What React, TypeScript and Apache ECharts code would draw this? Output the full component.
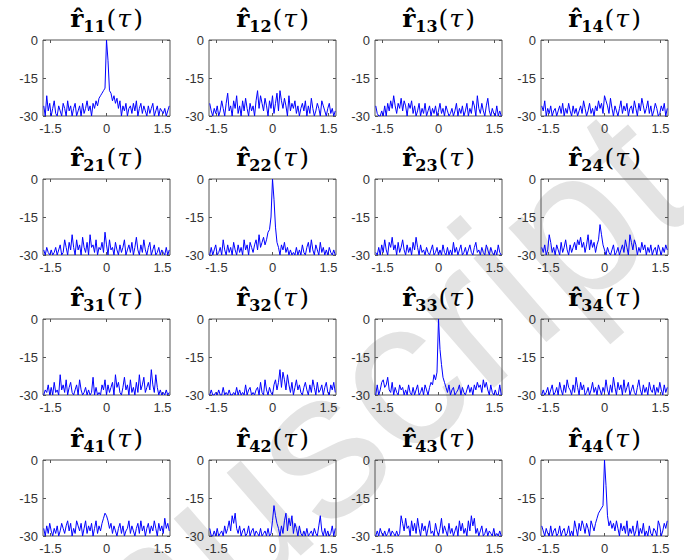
import React, { useEffect, useRef } from "react";
import * as echarts from "echarts";

// lag grid (tau) and ticks
const TAU_MIN = -1.68;
const TAU_STEP = 0.04;
const TAU_COUNT = 85;
const TAU = Array.from({ length: TAU_COUNT }, (_, i) => +(TAU_MIN + i * TAU_STEP).toFixed(2));
const X_TICKS = [-1.5, 0, 1.5];
const Y_MIN = -30;
const Y_MAX = 0;
const Y_STEP = 15;

const SUBSCRIPTS = ["11", "12", "13", "14", "21", "22", "23", "24", "31", "32", "33", "34", "41", "42", "43", "44"];

const R11 = [
  -26, -30, -22, -28, -25, -30, -27, -24, -29, -30,
  -26, -28, -30, -25, -27, -30, -24, -28, -26, -30,
  -27, -25, -30, -28, -26, -30, -25, -29, -27, -24,
  -28, -26, -30, -25, -27, -24, -26, -23, -22, -21,
  -20, -19, 0, -8, -20, -21, -24, -22, -25, -23,
  -27, -24, -30, -26, -28, -25, -30, -27, -26, -29,
  -25, -28, -24, -30, -27, -25, -29, -26, -28, -30,
  -26, -29, -27, -25, -30, -28, -26, -30, -27, -28,
  -29, -27, -30, -28, -26,
];
const R12 = [
  -25, -28, -30, -27, -29, -26, -30, -28, -24, -27,
  -30, -25, -21, -28, -26, -30, -24, -27, -22, -29,
  -26, -30, -24, -28, -23, -27, -30, -25, -28, -26,
  -30, -24, -20, -27, -22, -25, -28, -23, -26, -30,
  -24, -27, -22, -29, -25, -21, -28, -20, -24, -27,
  -23, -26, -30, -22, -28, -25, -27, -24, -29, -26,
  -30, -27, -25, -28, -24, -30, -26, -29, -23, -27,
  -30, -28, -25, -27, -30, -24, -26, -28, -30, -27,
  -25, -29, -27, -30, -28,
];
const R13 = [
  -26, -29, -30, -30, -28, -30, -26, -30, -25, -28,
  -24, -27, -22, -26, -29, -25, -27, -23, -28, -24,
  -26, -30, -25, -27, -24, -29, -26, -30, -28, -25,
  -30, -27, -29, -25, -30, -28, -26, -30, -27, -29,
  -26, -30, -28, -25, -29, -27, -30, -26, -28, -30,
  -29, -27, -30, -28, -25, -30, -27, -29, -26, -30,
  -28, -25, -30, -27, -29, -24, -26, -30, -22, -27,
  -29, -25, -28, -30, -26, -23, -28, -30, -27, -29,
  -30, -26, -30, -28, -30,
];
const R14 = [
  -26, -28, -24, -30, -27, -29, -26, -30, -28, -27,
  -30, -28, -26, -29, -25, -30, -27, -29, -25, -28,
  -30, -26, -29, -27, -30, -28, -26, -29, -24, -27,
  -30, -28, -25, -29, -27, -30, -26, -28, -24, -27,
  -25, -29, -22, -24, -26, -29, -23, -27, -30, -26,
  -28, -30, -27, -24, -29, -26, -28, -25, -30, -27,
  -26, -29, -24, -27, -30, -25, -28, -23, -26, -29,
  -27, -24, -29, -26, -30, -28, -25, -27, -30, -29,
  -26, -28, -25, -30, -27,
];
const R21 = [
  -28, -30, -27, -29, -30, -28, -30, -29, -27, -30,
  -28, -26, -30, -29, -24, -27, -30, -25, -28, -22,
  -27, -30, -24, -28, -26, -30, -23, -27, -29, -25,
  -30, -22, -27, -26, -29, -24, -30, -27, -28, -25,
  -29, -21, -26, -30, -24, -28, -27, -30, -25, -28,
  -30, -26, -29, -27, -24, -30, -28, -26, -29, -25,
  -30, -27, -23, -28, -30, -26, -29, -24, -28, -30,
  -27, -25, -30, -28, -26, -30, -29, -27, -30, -28,
  -29, -30, -27, -30, -28,
];
const R22 = [
  -30, -27, -30, -28, -26, -30, -29, -27, -30, -24,
  -28, -30, -26, -29, -27, -30, -25, -28, -30, -26,
  -29, -27, -30, -24, -28, -26, -30, -25, -27, -29,
  -26, -24, -28, -22, -27, -25, -23, -26, -24, -21,
  -20, -15, 0, -8, -19, -25, -27, -30, -26, -28,
  -25, -29, -27, -30, -28, -30, -29, -30, -27, -30,
  -28, -30, -26, -29, -30, -27, -25, -29, -24, -28,
  -30, -26, -28, -30, -25, -29, -27, -30, -28, -30,
  -27, -29, -30, -28, -30,
];
const R23 = [
  -29, -30, -27, -30, -26, -29, -24, -28, -30, -25,
  -27, -23, -28, -26, -30, -25, -29, -27, -24, -28,
  -30, -26, -29, -27, -30, -25, -28, -23, -27, -30,
  -26, -29, -28, -30, -27, -29, -30, -28, -26, -30,
  -29, -27, -30, -28, -30, -26, -29, -30, -27, -30,
  -28, -30, -25, -29, -27, -30, -28, -26, -30, -29,
  -27, -30, -28, -26, -29, -30, -27, -25, -29, -28,
  -30, -27, -29, -30, -26, -28, -30, -27, -29, -30,
  -28, -30, -26, -29, -30,
];
const R24 = [
  -27, -29, -26, -30, -28, -22, -25, -29, -27, -30,
  -26, -28, -30, -25, -29, -27, -24, -28, -30, -26,
  -29, -27, -25, -28, -24, -26, -23, -27, -25, -29,
  -26, -22, -28, -24, -27, -25, -29, -26, -24, -18,
  -22, -26, -28, -30, -27, -29, -30, -28, -26, -30,
  -29, -27, -30, -28, -26, -29, -24, -27, -30, -22,
  -25, -28, -24, -26, -30, -27, -29, -25, -28, -26,
  -30, -27, -29, -26, -30, -28, -27, -30, -26, -28,
  -30, -27, -29, -26, -28,
];
const R31 = [
  -30, -28, -29, -26, -30, -27, -30, -25, -29, -28,
  -30, -22, -28, -26, -29, -24, -30, -27, -25, -29,
  -30, -28, -26, -30, -24, -28, -30, -29, -27, -30,
  -28, -30, -29, -23, -30, -27, -30, -29, -30, -26,
  -28, -24, -30, -26, -29, -27, -25, -30, -22, -27,
  -25, -29, -30, -27, -23, -28, -26, -30, -24, -29,
  -27, -30, -25, -29, -22, -28, -26, -23, -29, -27,
  -25, -28, -20, -26, -29, -22, -27, -30, -28, -30,
  -29, -30, -28, -30, -29,
];
const R32 = [
  -30, -28, -30, -30, -29, -30, -28, -30, -30, -27,
  -30, -29, -30, -28, -30, -30, -29, -30, -27, -30,
  -28, -30, -29, -30, -26, -30, -28, -27, -30, -29,
  -30, -28, -27, -30, -25, -29, -30, -24, -28, -30,
  -27, -29, -30, -26, -24, -28, -25, -20, -27, -21,
  -24, -28, -22, -26, -29, -25, -30, -27, -24, -28,
  -26, -29, -30, -27, -25, -28, -30, -26, -29, -24,
  -27, -30, -25, -29, -28, -26, -30, -27, -25, -29,
  -30, -26, -28, -25, -29,
];
const R33 = [
  -30, -26, -30, -28, -25, -24, -27, -26, -23, -28,
  -29, -25, -30, -27, -29, -30, -26, -28, -27, -30,
  -28, -30, -26, -29, -30, -27, -30, -28, -26, -30,
  -29, -27, -30, -26, -28, -30, -27, -25, -26, -22,
  -24, -21, 0, -12, -18, -23, -25, -27, -29, -26,
  -30, -28, -27, -30, -29, -28, -26, -30, -27, -29,
  -30, -28, -26, -29, -27, -30, -26, -28, -25, -27,
  -26, -29, -24, -27, -25, -28, -30, -26, -29, -30,
  -28, -30, -30, -26, -30,
];
const R34 = [
  -30, -28, -30, -29, -27, -30, -28, -26, -30, -29,
  -27, -30, -25, -28, -30, -26, -29, -24, -27, -28,
  -30, -26, -29, -23, -27, -30, -25, -28, -26, -30,
  -29, -27, -30, -28, -25, -29, -27, -30, -26, -28,
  -30, -27, -29, -24, -28, -30, -26, -29, -23, -27,
  -30, -25, -28, -26, -30, -24, -29, -27, -25, -30,
  -28, -26, -29, -30, -27, -24, -28, -30, -26, -29,
  -27, -30, -25, -28, -29, -26, -30, -27, -29, -25,
  -28, -30, -26, -29, -27,
];
const R41 = [
  -27, -30, -26, -29, -25, -28, -30, -27, -29, -26,
  -30, -28, -25, -27, -29, -26, -24, -28, -25, -30,
  -27, -29, -24, -26, -28, -25, -30, -27, -24, -29,
  -26, -28, -25, -30, -27, -24, -29, -26, -28, -25,
  -23, -21, -22, -24, -27, -25, -29, -26, -28, -30,
  -27, -25, -29, -26, -30, -28, -27, -24, -29, -26,
  -28, -30, -27, -25, -29, -24, -28, -26, -30, -27,
  -25, -29, -26, -28, -24, -27, -30, -25, -28, -26,
  -29, -23, -27, -25, -28,
];
const R42 = [
  -27, -30, -30, -28, -30, -27, -30, -29, -28, -30,
  -26, -29, -27, -24, -28, -22, -25, -21, -27, -29,
  -26, -30, -28, -27, -30, -29, -26, -30, -28, -27,
  -30, -28, -29, -30, -27, -30, -29, -28, -30, -27,
  -30, -29, -24, -18, -22, -25, -27, -30, -26, -29,
  -24, -21, -28, -23, -26, -22, -29, -25, -27, -30,
  -26, -29, -30, -28, -30, -27, -30, -29, -28, -30,
  -27, -29, -30, -26, -22, -28, -30, -27, -30, -28,
  -30, -29, -26, -30, -27,
];
const R43 = [
  -30, -28, -30, -27, -29, -30, -28, -30, -29, -27,
  -30, -28, -29, -30, -28, -30, -29, -22, -25, -28,
  -23, -27, -26, -30, -24, -28, -25, -29, -23, -27,
  -30, -25, -28, -26, -30, -27, -24, -29, -28, -30,
  -25, -28, -30, -27, -23, -29, -26, -28, -30, -25,
  -29, -27, -30, -28, -26, -30, -24, -28, -25, -29,
  -27, -30, -24, -28, -22, -26, -23, -29, -27, -30,
  -28, -26, -30, -29, -27, -30, -28, -29, -30, -27,
  -30, -29, -30, -28, -30,
];
const R44 = [
  -26, -28, -30, -27, -29, -30, -26, -30, -28, -27,
  -30, -29, -26, -30, -28, -27, -30, -29, -26, -30,
  -28, -30, -24, -27, -30, -25, -28, -24, -26, -29,
  -25, -27, -30, -24, -26, -28, -25, -23, -21, -20,
  -19, -18, 0, -10, -22, -26, -24, -27, -25, -28,
  -24, -27, -30, -25, -28, -26, -29, -24, -30, -27,
  -29, -26, -30, -28, -24, -30, -27, -29, -25, -30,
  -28, -30, -26, -29, -30, -27, -28, -30, -24, -26,
  -30, -28, -25, -27, -24,
];

const SERIES = [R11, R12, R13, R14, R21, R22, R23, R24, R31, R32, R33, R34, R41, R42, R43, R44];

// layout (pixels)
const COL_LEFT = [43, 209, 375, 541];
const ROW_TOP = [40, 179, 319, 460];
const PANEL_W = 127;
const PANEL_H = 76;

export default function App() {
  const ref = useRef<HTMLDivElement>(null);
  useEffect(() => {
    if (!ref.current) return;
    const chart = echarts.init(ref.current, null, { renderer: "svg" });
    const grids: any[] = [];
    const xAxes: any[] = [];
    const yAxes: any[] = [];
    const series: any[] = [];
    const graphics: any[] = [];
    const lineCol = "#555";
    const labelStyle = { fontFamily: "Liberation Sans, Arial, sans-serif", fontSize: 13, color: "#333" };

    graphics.push({
      type: "text",
      x: 268,
      y: 488,
      rotation: (41 * Math.PI) / 180,
      z: -10,
      silent: true,
      style: {
        text: "Manuscript",
        font: "210px 'Liberation Sans', Arial, sans-serif",
        fill: "#e3e3e3",
        align: "center",
        verticalAlign: "middle",
      },
    });

    SERIES.forEach((vals, i) => {
      const r = Math.floor(i / 4);
      const c = i % 4;
      grids.push({
        left: COL_LEFT[c],
        top: ROW_TOP[r],
        width: PANEL_W,
        height: PANEL_H,
        show: true,
        borderColor: lineCol,
        borderWidth: 1,
        backgroundColor: "transparent",
        containLabel: false,
      });
      const xBase = {
        gridIndex: i,
        type: "value",
        min: -1.7,
        max: 1.7,
        axisLine: { show: false, onZero: false },
        splitLine: { show: false },
        axisTick: { show: true, inside: true, length: 3, customValues: X_TICKS, lineStyle: { color: lineCol } },
      };
      xAxes.push({
        ...xBase,
        position: "bottom",
        axisLabel: { ...labelStyle, margin: 6, customValues: X_TICKS, formatter: (v: number) => String(v) },
      });
      xAxes.push({ ...xBase, position: "top", axisLabel: { show: false } });
      const yBase = {
        gridIndex: i,
        type: "value",
        min: Y_MIN,
        max: Y_MAX,
        interval: Y_STEP,
        axisLine: { show: false, onZero: false },
        splitLine: { show: false },
        axisTick: { show: true, inside: true, length: 3, lineStyle: { color: lineCol } },
      };
      yAxes.push({ ...yBase, position: "left", axisLabel: { ...labelStyle, margin: 5 } });
      yAxes.push({ ...yBase, position: "right", axisLabel: { show: false } });
      series.push({
        type: "line",
        xAxisIndex: 2 * i,
        yAxisIndex: 2 * i,
        data: TAU.map((t, k) => [t, vals[k]]),
        showSymbol: false,
        symbol: "none",
        clip: true,
        z: 3,
        lineStyle: { color: "#0000ff", width: 1 },
        itemStyle: { color: "#0000ff" },
      });
      graphics.push({
        type: "text",
        x: COL_LEFT[c] + PANEL_W / 2,
        y: ROW_TOP[r] - 22,
        z: 5,
        style: {
          text: `{r|r\u0302}{s|${SUBSCRIPTS[i]}}{p|(}{t|\u03c4}{p|)}`,
          align: "center",
          verticalAlign: "middle",
          fill: "#000",
          rich: {
            r: { fontFamily: "DejaVu Serif", fontWeight: "bold", fontSize: 25, lineHeight: 32, verticalAlign: "middle", fill: "#000" },
            s: { fontFamily: "DejaVu Serif", fontWeight: "bold", fontSize: 16, lineHeight: 19, verticalAlign: "bottom", fill: "#000", padding: [0, 1, 0, 0] },
            p: { fontFamily: "DejaVu Serif", fontSize: 25, lineHeight: 32, verticalAlign: "middle", fill: "#000" },
            t: { fontFamily: "DejaVu Serif", fontStyle: "italic", fontSize: 25, lineHeight: 32, verticalAlign: "middle", fill: "#000", padding: [0, 2, 0, 1] },
          },
        },
      });
    });

    chart.setOption({
      animation: false,
      backgroundColor: "#fff",
      grid: grids,
      xAxis: xAxes,
      yAxis: yAxes,
      series,
      graphic: graphics,
    });
    return () => chart.dispose();
  }, []);
  return (
    <div
      ref={ref}
      style={{ position: "fixed", left: 0, top: 0, width: 684, height: 560, background: "#fff" }}
    />
  );
}
